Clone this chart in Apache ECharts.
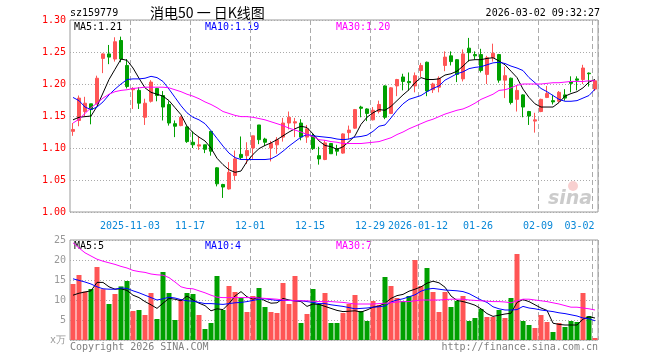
<!DOCTYPE html>
<html><head><meta charset="utf-8">
<script src="https://cdn.jsdelivr.net/npm/echarts@6/dist/echarts.min.js"></script>
<style>html,body{margin:0;padding:0;background:#fff}#c{width:660px;height:360px}</style>
</head><body><div id="c"></div>
<script>
const dates = [
'2025-10-20','2025-10-21','2025-10-22','2025-10-23','2025-10-24','2025-10-27','2025-10-28','2025-10-29','2025-10-30','2025-10-31',
'2025-11-03','2025-11-04','2025-11-05','2025-11-06','2025-11-07','2025-11-10','2025-11-11','2025-11-12','2025-11-13','2025-11-14',
'2025-11-17','2025-11-18','2025-11-19','2025-11-20','2025-11-21','2025-11-24','2025-11-25','2025-11-26','2025-11-27','2025-11-28',
'2025-12-01','2025-12-02','2025-12-03','2025-12-04','2025-12-05','2025-12-08','2025-12-09','2025-12-10','2025-12-11','2025-12-12',
'2025-12-15','2025-12-16','2025-12-17','2025-12-18','2025-12-19','2025-12-22','2025-12-23','2025-12-24','2025-12-25','2025-12-26',
'2025-12-29','2025-12-30','2025-12-31','2026-01-05','2026-01-06','2026-01-07','2026-01-08','2026-01-09',
'2026-01-12','2026-01-13','2026-01-14','2026-01-15','2026-01-16','2026-01-19','2026-01-20','2026-01-21','2026-01-22','2026-01-23',
'2026-01-26','2026-01-27','2026-01-28','2026-01-29','2026-01-30','2026-02-02','2026-02-03','2026-02-04','2026-02-05','2026-02-06',
'2026-02-09','2026-02-10','2026-02-11','2026-02-12','2026-02-13','2026-02-24','2026-02-25','2026-02-26','2026-02-27','2026-03-02'];

const opens = [
1.126,1.143,1.157,1.169,1.169,1.240,1.247,1.239,1.268,1.229,
1.191,1.190,1.148,1.173,1.193,1.182,1.168,1.138,1.135,1.133,
1.109,1.103,1.105,1.126,1.069,1.043,1.036,1.057,1.090,1.088,
1.100,1.136,1.114,1.100,1.105,1.117,1.139,1.139,1.139,1.117,
1.119,1.088,1.082,1.107,1.099,1.092,1.124,1.131,1.164,1.161,
1.144,1.157,1.197,1.154,1.197,1.211,1.204,1.197,
1.221,1.234,1.191,1.195,1.229,1.244,1.238,1.208,1.256,1.246,
1.246,1.215,1.241,1.246,1.206,1.209,1.176,1.183,1.157,1.142,
1.157,1.179,1.174,1.173,1.183,1.203,1.208,1.207,1.217,1.192];
const closes = [
1.129,1.178,1.170,1.160,1.209,1.247,1.242,1.266,1.239,1.196,
1.193,1.170,1.170,1.203,1.182,1.164,1.139,1.134,1.148,1.110,
1.105,1.105,1.098,1.095,1.044,1.039,1.062,1.083,1.085,1.096,
1.119,1.113,1.109,1.107,1.113,1.139,1.148,1.141,1.117,1.130,
1.099,1.083,1.108,1.091,1.095,1.122,1.128,1.160,1.162,1.154,
1.159,1.168,1.148,1.194,1.207,1.204,1.202,1.213,
1.229,1.189,1.200,1.209,1.242,1.235,1.215,1.247,1.249,1.244,
1.221,1.241,1.248,1.206,1.213,1.171,1.190,1.164,1.150,1.144,
1.176,1.185,1.172,1.187,1.178,1.201,1.206,1.225,1.216,1.205];
const lows = [
1.119,1.134,1.150,1.137,1.168,1.217,1.231,1.235,1.234,1.193,
1.161,1.161,1.136,1.171,1.173,1.143,1.135,1.117,1.134,1.108,
1.100,1.097,1.092,1.088,1.040,1.022,1.035,1.049,1.082,1.075,
1.083,1.106,1.103,1.079,1.091,1.110,1.129,1.117,1.112,1.108,
1.097,1.074,1.081,1.091,1.088,1.091,1.114,1.130,1.148,1.142,
1.143,1.154,1.145,1.153,1.181,1.190,1.190,1.187,
1.211,1.181,1.186,1.187,1.220,1.229,1.203,1.204,1.235,1.238,
1.218,1.200,1.235,1.202,1.178,1.168,1.157,1.148,1.136,1.124,
1.156,1.178,1.168,1.171,1.174,1.187,1.190,1.200,1.196,1.189];
const highs = [
1.139,1.182,1.180,1.169,1.213,1.248,1.261,1.273,1.274,1.239,
1.195,1.195,1.177,1.206,1.194,1.189,1.173,1.143,1.150,1.134,
1.126,1.118,1.105,1.127,1.070,1.044,1.078,1.096,1.118,1.109,
1.119,1.136,1.116,1.111,1.117,1.147,1.157,1.147,1.145,1.136,
1.123,1.102,1.112,1.108,1.105,1.123,1.135,1.161,1.166,1.162,
1.164,1.174,1.198,1.195,1.208,1.216,1.218,1.218,
1.233,1.235,1.202,1.212,1.251,1.251,1.239,1.254,1.272,1.251,
1.255,1.244,1.263,1.247,1.227,1.210,1.197,1.184,1.158,1.155,
1.177,1.197,1.183,1.189,1.192,1.212,1.212,1.230,1.218,1.207];

const volumes = [
14.0,16.25,12.1,12.75,18.25,12.7,9.0,11.5,13.4,14.75,
7.25,7.5,6.25,11.75,5.25,17.0,11.75,5.0,10.25,11.75,
11.5,6.25,2.75,4.25,16.0,7.5,13.5,12.0,10.5,7.0,
11.0,13.0,8.25,7.0,6.75,14.25,9.0,16.0,4.25,6.5,
12.75,9.0,11.75,4.25,4.25,6.75,9.0,11.25,7.25,4.75,
9.75,8.75,15.75,13.5,10.5,9.75,11.0,20.0,
13.5,18.0,12.0,7.0,12.0,8.25,9.75,11.0,4.75,5.5,
7.75,5.75,5.75,7.5,5.5,10.5,21.5,4.75,3.75,3.0,
6.25,4.5,2.0,4.25,3.25,4.75,4.5,11.75,6.0,0.5];

const ma5 = [
1.144,1.148,1.149,1.150,1.165,1.186,1.207,1.223,1.239,1.237,
1.225,1.209,1.194,1.187,1.184,1.181,1.174,1.163,1.152,1.134,
1.124,1.117,1.111,1.100,1.084,1.074,1.066,1.062,1.064,1.079,
1.090,1.099,1.104,1.108,1.113,1.119,1.125,1.130,1.134,1.132,
1.122,1.111,1.104,1.102,1.098,1.102,1.110,1.119,1.137,1.148,
1.155,1.160,1.159,1.165,1.174,1.183,1.191,1.202,1.210,1.207,
1.207,1.208,1.214,1.216,1.220,1.228,1.237,1.238,1.238,1.240,
1.241,1.236,1.230,1.220,1.210,1.192,1.179,1.169,1.164,1.164,
1.164,1.171,1.181,1.185,1.188,1.194,1.203,1.207];
const ma10 = [
1.179,1.174,1.164,1.160,1.164,1.172,1.183,1.192,1.200,1.207,
1.208,1.208,1.209,1.212,1.210,1.204,1.192,1.179,1.166,1.155,
1.148,1.144,1.138,1.127,1.115,1.103,1.092,1.085,1.082,1.082,
1.082,1.082,1.082,1.083,1.088,1.095,1.103,1.110,1.117,1.121,
1.119,1.118,1.117,1.116,1.114,1.113,1.114,1.117,1.118,1.120,
1.126,1.134,1.136,1.147,1.159,1.169,1.176,1.179,1.182,1.188,
1.193,1.197,1.206,1.211,1.216,1.219,1.224,1.226,1.227,1.230,
1.233,1.234,1.232,1.228,1.225,1.221,1.210,1.202,1.193,1.188,
1.182,1.176,1.173,1.173,1.174,1.178,1.182,1.192];
const ma30 = [
1.139,1.145,1.154,1.163,1.170,1.178,1.184,1.188,1.190,1.191,
1.193,1.194,1.195,1.195,1.195,1.195,1.194,1.191,1.188,1.184,
1.181,1.177,1.172,1.168,1.163,1.157,1.154,1.151,1.149,1.149,
1.148,1.146,1.144,1.141,1.138,1.135,1.131,1.128,1.125,1.121,
1.118,1.113,1.112,1.110,1.109,1.107,1.107,1.107,1.107,1.108,
1.109,1.110,1.113,1.116,1.121,1.125,1.130,1.134,1.138,1.142,
1.145,1.149,1.153,1.156,1.159,1.161,1.165,1.170,1.176,1.180,
1.184,1.190,1.191,1.194,1.198,1.200,1.200,1.200,1.200,1.201,
1.202,1.202,1.203,1.204,1.204,1.204,1.205,1.205];

const volMa5 = [
11.2,11.7,12.0,12.3,14.4,14.4,13.3,12.7,12.8,12.4,
11.2,10.6,9.6,8.8,7.9,9.2,10.4,10.2,9.8,11.0,
10.0,9.2,8.6,7.3,7.8,7.6,9.1,11.0,12.1,10.8,
10.2,10.7,9.8,9.2,9.3,10.4,10.0,9.8,9.6,8.4,
9.0,8.9,8.4,7.9,7.4,7.1,7.2,7.3,7.0,7.5,
8.2,8.5,9.2,10.4,11.1,11.4,12.2,12.7,13.3,14.2,
14.7,14.3,13.2,11.0,9.9,9.6,9.2,8.7,7.8,6.6,
5.9,6.2,6.5,6.7,9.4,10.1,9.6,8.8,8.0,7.4,
4.2,3.9,3.75,3.75,3.75,5.2,5.8,5.5];
const volMa10 = [
15.3,14.9,14.5,14.0,13.3,12.8,12.7,12.7,13.0,12.9,
12.3,11.8,11.2,10.6,10.0,10.3,10.7,10.5,10.1,9.8,
9.7,9.4,9.1,9.1,9.0,8.9,9.1,9.3,9.4,9.6,
9.9,10.2,10.3,10.1,9.9,9.9,9.9,9.8,9.8,9.6,
9.4,9.1,9.1,8.8,8.6,8.4,8.1,7.8,7.9,8.0,
8.2,8.3,8.5,9.5,10.0,10.3,10.8,11.3,12.2,12.7,
12.9,12.7,12.5,12.4,12.3,12.1,11.6,10.8,10.0,9.4,
8.3,7.8,7.5,7.5,7.6,8.4,8.0,7.8,7.5,7.3,
7.1,6.8,6.6,6.3,6.0,5.5,5.3,4.8];
const volMa30 = [
24.3,23.0,21.8,21.0,20.2,19.7,19.3,18.9,18.4,18.0,
17.4,17.1,16.9,16.5,16.3,16.2,15.6,14.5,13.3,12.9,
12.8,12.3,11.8,11.2,10.7,10.6,10.6,10.6,10.6,10.6,
10.6,10.5,10.4,10.3,10.2,10.0,9.9,9.8,9.8,9.8,
9.7,9.6,9.6,9.6,9.5,9.4,9.2,9.0,9.0,9.0,
9.0,9.1,9.2,9.3,9.5,9.6,9.6,9.8,10.0,10.0,
10.0,10.0,10.1,10.2,10.2,10.2,10.0,9.9,9.8,9.7,
9.6,9.6,9.5,9.3,9.8,10.2,10.2,10.0,9.8,9.6,
9.3,9.0,8.6,8.2,8.2,8.0,7.8,7.5];

const tickDates = ['2025-11-03','2025-11-17','2025-12-01','2025-12-15','2025-12-29','2026-01-12','2026-01-26','2026-02-09','2026-03-02'];
const tickLabels = ['2025-11-03','11-17','12-01','12-15','12-29','2026-01-12','01-26','02-09','03-02'];
const priceAxis = {min: 1.00, max: 1.30, step: 0.05};
const volAxis = {min: 0, max: 25, step: 5};

const RED = '#ff5555', GREEN = '#00a000';
const MONO = "'DejaVu Sans Mono', monospace";
const tickIdx = new Set(tickDates.map(d => dates.indexOf(d)));
const showTick = (i) => tickIdx.has(i);
const lastDate = dates[dates.length - 1];

const candles = dates.map((d, i) => [opens[i], closes[i], lows[i], highs[i]]);
const volData = volumes.map((v, i) => ({value: v, itemStyle: {color: closes[i] >= opens[i] ? RED : GREEN}}));

const chart = echarts.init(document.getElementById('c'), null, {renderer: 'canvas'});
const gridBox = {show: true, borderColor: '#9a9a9a', borderWidth: 1, backgroundColor: 'transparent'};
const xBase = {
  type: 'category', data: dates, boundaryGap: true,
  axisLine: {show: false}, axisTick: {show: false},
  splitLine: {show: true, interval: showTick, lineStyle: {color: '#aaaaaa', type: [5, 3], width: 1}}
};
const mkLine = (name, data, color, xi, yi) => ({
  name, type: 'line', data, xAxisIndex: xi, yAxisIndex: yi, showSymbol: false, symbol: 'none',
  lineStyle: {color, width: 1}, silent: true, animation: false, z: 5
});
const txt = (x, y, text, fill, font, align) => ({
  type: 'text', x, y, silent: true,
  style: {text, fill, font, align: align || 'left', verticalAlign: 'middle', textAlign: align || 'left', textVerticalAlign: 'middle'}
});
const F10 = '10px ' + MONO;

chart.setOption({
  animation: false,
  grid: [
    Object.assign({left: 70, top: 20, width: 528, height: 192}, gridBox),
    Object.assign({left: 70, top: 240, width: 528, height: 100}, gridBox)
  ],
  xAxis: [
    Object.assign({}, xBase, {gridIndex: 0, axisLabel: {show: true, interval: showTick, color: '#0a88d8', fontFamily: MONO, fontSize: 10, margin: 9,
      formatter: (v) => (v === lastDate ? '{e|' : '{n|') + tickLabels[tickDates.indexOf(v)] + '}',
      rich: {n: {color: '#0a88d8', fontFamily: MONO, fontSize: 10, padding: [0, 6, 0, 0]},
             e: {color: '#0a88d8', fontFamily: MONO, fontSize: 10, padding: [0, 31, 0, 0]}}}}),
    Object.assign({}, xBase, {gridIndex: 1, axisLabel: {show: false}})
  ],
  yAxis: [
    {gridIndex: 0, type: 'value', min: priceAxis.min, max: priceAxis.max, interval: priceAxis.step,
     axisLine: {show: false}, axisTick: {show: false},
     axisLabel: {color: '#ff0000', fontFamily: MONO, fontSize: 10, margin: 4, formatter: (v) => v.toFixed(2)},
     splitLine: {show: true, lineStyle: {color: '#aaaaaa', type: [1, 2], width: 1}}},
    {gridIndex: 1, type: 'value', min: volAxis.min, max: volAxis.max, interval: volAxis.step,
     axisLine: {show: false}, axisTick: {show: false},
     axisLabel: {color: '#999999', fontFamily: MONO, fontSize: 10, margin: 4, formatter: (v) => v === 0 ? 'x万' : String(v)},
     splitLine: {show: true, lineStyle: {color: '#aaaaaa', type: [1, 2], width: 1}}}
  ],
  series: [
    {type: 'candlestick', data: candles, xAxisIndex: 0, yAxisIndex: 0, barWidth: 4,
     itemStyle: {color: RED, color0: GREEN, borderColor: RED, borderColor0: GREEN, borderWidth: 1}, z: 3},
    mkLine('MA5', ma5, '#000000', 0, 0),
    mkLine('MA10', ma10, '#0000ff', 0, 0),
    mkLine('MA30', ma30, '#ff00ff', 0, 0),
    {type: 'bar', data: volData, xAxisIndex: 1, yAxisIndex: 1, barWidth: 5, z: 3},
    mkLine('VMA5', volMa5, '#000000', 1, 1),
    mkLine('VMA10', volMa10, '#0000ff', 1, 1),
    mkLine('VMA30', volMa30, '#ff00ff', 1, 1)
  ],
  graphic: [
    txt(70, 13, 'sz159779', '#000', '10px ' + MONO),
    txt(150, 13, '消电50 一 日K线图', '#000', "14px 'Noto Sans CJK SC'"),
    txt(600, 13, '2026-03-02 09:32:27', '#000', '10px ' + MONO, 'right'),
    txt(74, 27, 'MA5:1.21', '#000000', F10),
    txt(205, 27, 'MA10:1.19', '#0000ff', F10),
    txt(336, 27, 'MA30:1.20', '#ff00ff', F10),
    txt(74, 246, 'MA5:5', '#000000', F10),
    txt(205, 246, 'MA10:4', '#0000ff', F10),
    txt(336, 246, 'MA30:7', '#ff00ff', F10),
    txt(70, 347, 'Copyright 2026 SINA.COM', '#808080', F10),
    txt(598, 347, 'http://finance.sina.com.cn', '#808080', F10, 'right'),
    {type: 'circle', silent: true, shape: {cx: 573, cy: 186, r: 5}, style: {fill: 'rgba(240,150,150,0.45)'}},
    txt(548, 199, 'sina', 'rgba(160,160,160,0.55)', "italic bold 19px 'DejaVu Sans'")
  ]
});
</script></body></html>
